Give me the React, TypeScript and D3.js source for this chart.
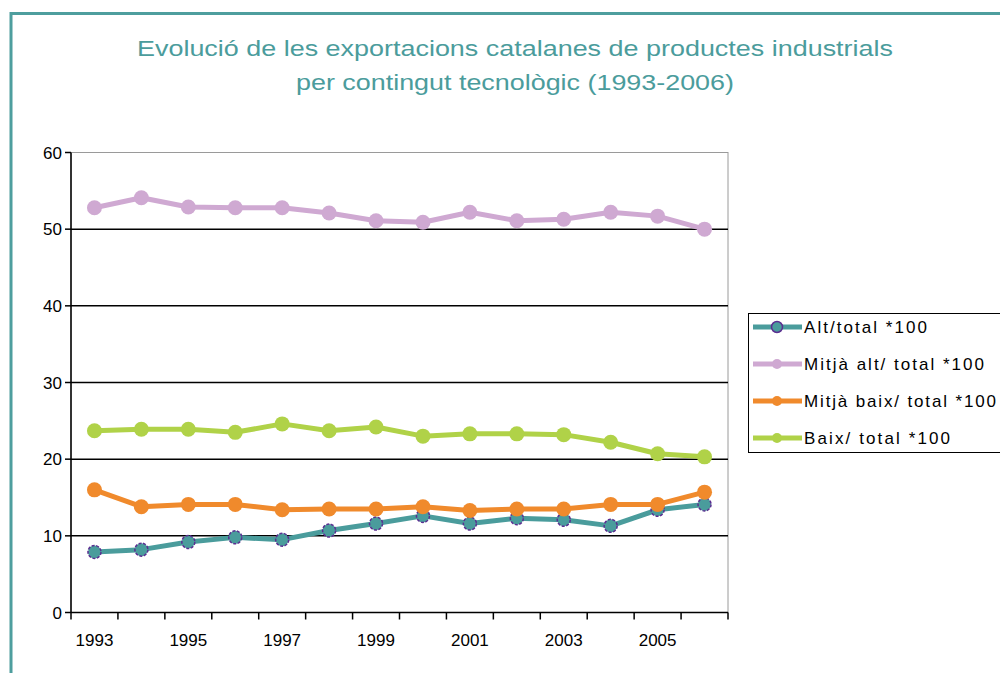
import React from "react";
import * as d3 from "d3";

const years = ["1993","1994","1995","1996","1997","1998","1999","2000","2001","2002","2003","2004","2005","2006"];
const altValues = [7.9, 8.2, 9.2, 9.8, 9.5, 10.7, 11.6, 12.6, 11.6, 12.3, 12.1, 11.3, 13.4, 14.1];
const mitjaAltValues = [52.8, 54.1, 52.9, 52.8, 52.8, 52.1, 51.1, 50.9, 52.2, 51.1, 51.3, 52.2, 51.7, 50.0];
const mitjaBaixValues = [16.0, 13.8, 14.1, 14.1, 13.4, 13.5, 13.5, 13.8, 13.3, 13.5, 13.5, 14.1, 14.1, 15.7];
const baixValues = [23.7, 23.9, 23.9, 23.5, 24.6, 23.7, 24.2, 23.0, 23.3, 23.3, 23.2, 22.2, 20.7, 20.3];
const yTicks = [0, 10, 20, 30, 40, 50, 60];
const xTickLabels = ["1993","1995","1997","1999","2001","2003","2005"];
const seriesNames = ["Alt/total *100", "Mitjà alt/ total *100", "Mitjà baix/ total *100", "Baix/ total *100"];
const titleLines = ["Evolució de les exportacions catalanes de productes industrials", "per contingut tecnològic (1993-2006)"];

const colors = ["#4A9C9C", "#CFA9D2", "#F08A2C", "#B0D248"];
const legendTextLengths = [123, 180, 192, 146];

export default function App() {
  const W = 1000, H = 673;
  const left = 71, right = 728, top = 152.5, bottom = 612.5;
  const x = d3.scaleBand<string>().domain(years).range([left, right]);
  const y = d3.scaleLinear().domain([0, 60]).range([bottom, top]);
  const allSeries = [altValues, mitjaAltValues, mitjaBaixValues, baixValues];
  const line = d3.line<number>()
    .x((_, i) => (x(years[i]) as number) + x.bandwidth() / 2)
    .y((d) => y(d));
  const font = "'Liberation Sans', Arial, sans-serif";
  const legendY = [327, 364, 401, 438];
  return (
    <svg width={W} height={H} style={{ position: "absolute", left: 0, top: 0, background: "#fff" }}>
      <rect x={0} y={0} width={W} height={H} fill="#fff" />
      <rect x={11} y={13.5} width={1100} height={800} fill="none" stroke="#4E9E9E" strokeWidth={3} />
      <text x={515} y={56} textAnchor="middle" fill="#4B9C9C" fontFamily={font} fontSize={22}
        textLength={756} lengthAdjust="spacingAndGlyphs">{titleLines[0]}</text>
      <text x={515} y={90} textAnchor="middle" fill="#4B9C9C" fontFamily={font} fontSize={22}
        textLength={438} lengthAdjust="spacingAndGlyphs">{titleLines[1]}</text>
      <rect x={left} y={top} width={right - left} height={bottom - top} fill="#fff" stroke="#9a9a9a" strokeWidth={1} />
      {yTicks.filter((t) => t > 0 && t < 60).map((t) => (
        <line key={t} x1={left} x2={right} y1={y(t)} y2={y(t)} stroke="#000" strokeWidth={1.5} />
      ))}
      <line x1={left} x2={left} y1={top} y2={bottom} stroke="#000" strokeWidth={1.5} />
      {yTicks.map((t) => (
        <g key={t}>
          <line x1={left - 6} x2={left} y1={y(t)} y2={y(t)} stroke="#000" strokeWidth={1.5} />
          <text x={left - 9} y={y(t) + 6} textAnchor="end" fontFamily={font} fontSize={17} fill="#000">{t}</text>
        </g>
      ))}
      <line x1={left} x2={right} y1={bottom} y2={bottom} stroke="#000" strokeWidth={1.5} />
      {years.map((yr) => (
        <line key={yr} x1={x(yr) as number} x2={x(yr) as number} y1={bottom} y2={bottom + 7} stroke="#000" strokeWidth={1.5} />
      ))}
      <line x1={right} x2={right} y1={bottom} y2={bottom + 7} stroke="#000" strokeWidth={1.5} />
      {xTickLabels.map((yr) => (
        <text key={yr} x={(x(yr) as number) + x.bandwidth() / 2} y={646} textAnchor="middle" fontFamily={font} fontSize={17} fill="#000">{yr}</text>
      ))}
      {allSeries.map((vals, si) => (
        <g key={si}>
          <path d={line(vals) || ""} fill="none" stroke={colors[si]} strokeWidth={5} strokeLinejoin="round" />
          {vals.map((v, i) => (
            <circle key={i} cx={(x(years[i]) as number) + x.bandwidth() / 2} cy={y(v)}
              r={si === 0 ? 6.5 : 7.5} fill={colors[si]}
              stroke={si === 0 ? "#5B2E91" : "none"} strokeWidth={si === 0 ? 1.5 : 0}
              strokeDasharray={si === 0 ? "3 1.5" : undefined} />
          ))}
        </g>
      ))}
      <rect x={748.5} y={313.5} width={300} height={139} fill="#fff" stroke="#000" strokeWidth={1} />
      {seriesNames.map((n, i) => (
        <g key={n}>
          <line x1={753} x2={802} y1={legendY[i]} y2={legendY[i]} stroke={colors[i]} strokeWidth={5} />
          <circle cx={777} cy={legendY[i]} r={i === 0 ? 5.5 : 5} fill={colors[i]}
            stroke={i === 0 ? "#5B2E91" : "none"} strokeWidth={i === 0 ? 1.5 : 0} />
          <text x={804} y={legendY[i] + 6} fontFamily={font} fontSize={17} fill="#000"
            textLength={legendTextLengths[i]} lengthAdjust="spacing">{n}</text>
        </g>
      ))}
    </svg>
  );
}
